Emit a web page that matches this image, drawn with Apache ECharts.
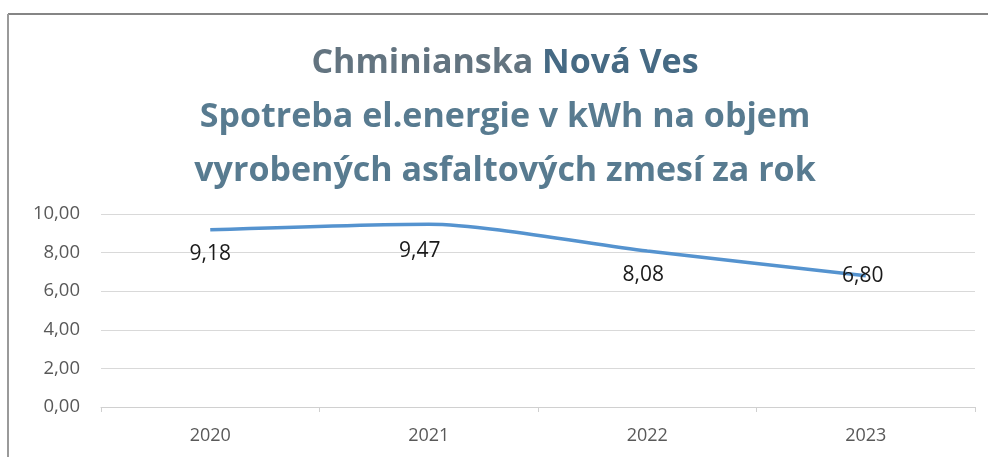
<!DOCTYPE html>
<html>
<head>
<meta charset="utf-8">
<script src="https://cdn.jsdelivr.net/npm/echarts@6/dist/echarts.min.js"></script>
<style>
html,body{margin:0;padding:0;background:#fff;}
#c{width:988px;height:457px;}
</style>
</head>
<body>
<div id="c"></div>
<script>
var categories = ['2020', '2021', '2022', '2023'];
var values = [9.18, 9.47, 8.08, 6.80];
var yTicks = [0, 2, 4, 6, 8, 10];
var titleLines = ['{a|Chminianska} {b|Nová Ves}', 'Spotreba el.energie v kWh na objem', 'vyrobených asfaltových zmesí za rok'];

var labelPositions = ['bottom', 'bottom', 'bottom', 'inside'];
var labelOffsets = [[0, 0], [-9, 3], [-4, 0], [-3, 0]];

function fmt(v) { return v.toFixed(2).replace('.', ','); }

var titleFont = {fontFamily: 'Open Sans', fontWeight: 'bold', fontSize: 34, lineHeight: 54};

var chart = echarts.init(document.getElementById('c'), null, {renderer: 'canvas'});
chart.setOption({
  backgroundColor: '#ffffff',
  animation: false,
  title: {
    text: titleLines.join('\n'),
    left: 500,
    top: 31,
    textAlign: 'center',
    textStyle: Object.assign({}, titleFont, {
      color: '#587b90',
      rich: {
        a: Object.assign({}, titleFont, {color: '#637480'}),
        b: Object.assign({}, titleFont, {color: '#466a84'})
      }
    })
  },
  graphic: [
    {type: 'line', shape: {x1: 8, y1: 14, x2: 988, y2: 14}, style: {stroke: '#858585', lineWidth: 2}},
    {type: 'line', shape: {x1: 8, y1: 14, x2: 8, y2: 457}, style: {stroke: '#9a9a9a', lineWidth: 2}}
  ],
  grid: {left: 101, right: 13, top: 214, bottom: 50, containLabel: false},
  xAxis: {
    type: 'category',
    data: categories,
    boundaryGap: true,
    axisLine: {lineStyle: {color: '#d0d0d0', width: 1}},
    axisTick: {show: true, length: 5, lineStyle: {color: '#d0d0d0'}},
    axisLabel: {fontFamily: 'Open Sans', fontSize: 18, color: '#595959', margin: 20}
  },
  yAxis: {
    type: 'value',
    min: yTicks[0],
    max: yTicks[yTicks.length - 1],
    interval: yTicks[1] - yTicks[0],
    axisLine: {show: false},
    axisTick: {show: false},
    splitLine: {lineStyle: {color: '#d9d9d9', width: 1}},
    axisLabel: {fontFamily: 'Open Sans', fontSize: 18.5, color: '#595959', margin: 21, formatter: fmt}
  },
  series: [{
    type: 'line',
    data: values.map(function (v, i) {
      return {value: v, label: {show: true, position: labelPositions[i], offset: labelOffsets[i]}};
    }),
    smooth: 0.25,
    showSymbol: true,
    symbol: 'circle',
    symbolSize: 1,
    itemStyle: {color: 'rgba(0,0,0,0)'},
    lineStyle: {color: '#5593cf', width: 3.5},
    label: {
      show: true,
      distance: 13,
      fontFamily: 'Open Sans',
      fontSize: 21,
      color: '#1a1a1a',
      formatter: function (p) { return fmt(p.value); }
    }
  }]
});
</script>
</body>
</html>
